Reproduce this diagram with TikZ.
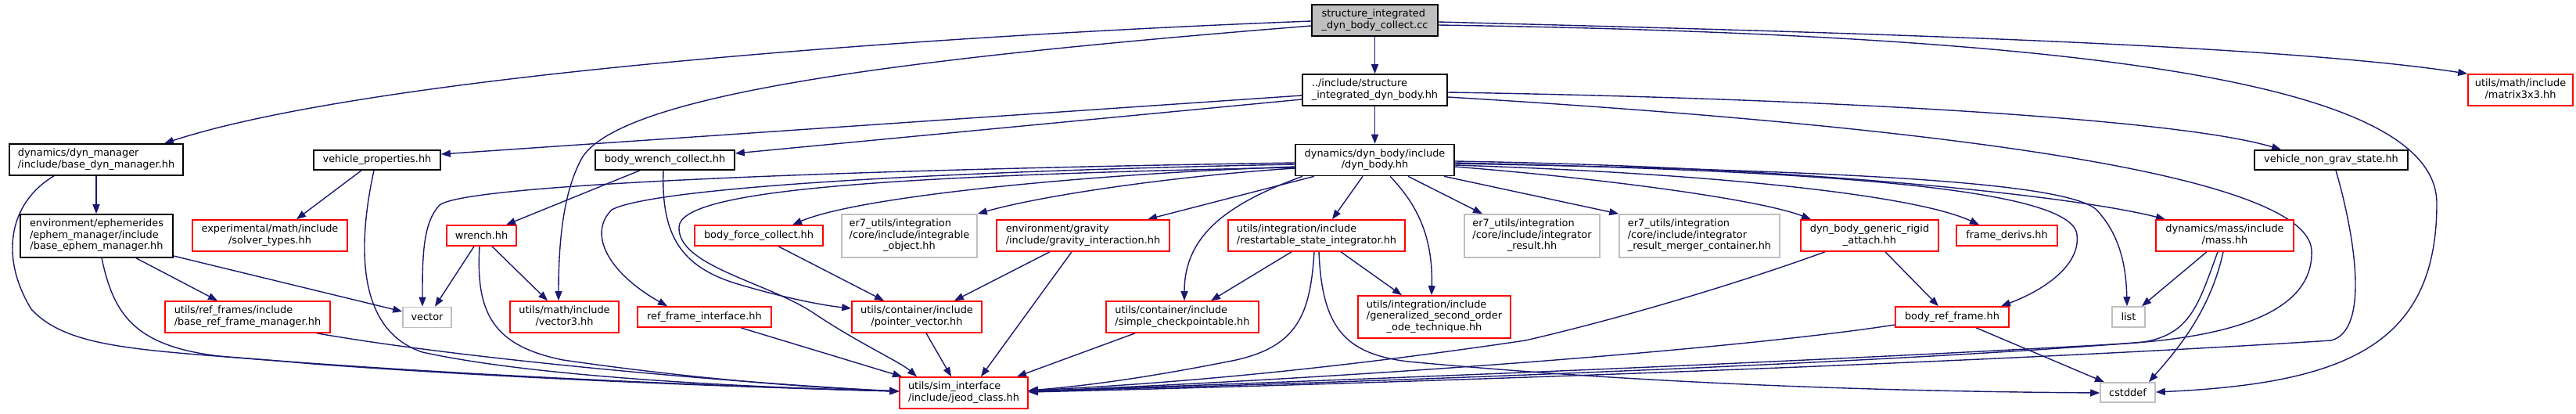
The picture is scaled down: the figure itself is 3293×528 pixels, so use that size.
\documentclass[tikz,border=0pt]{standalone}
\usepackage{fontspec}
\setmainfont{DejaVu Sans}
\usetikzlibrary{arrows.meta}
\definecolor{edgeblue}{HTML}{191970}
\definecolor{redbd}{HTML}{FF0000}
\definecolor{graybd}{HTML}{BFBFBF}
\pgfdeclarelayer{edgelayer}
\pgfsetlayers{edgelayer,main}
\newcommand{\ml}[2]{\begin{tabular}{@{}l@{}}#1\\\multicolumn{1}{@{}c@{}}{#2}\end{tabular}}
\begin{document}
\begin{tikzpicture}[x=1pt,y=-1pt,
  box/.style={rectangle,draw,line width=1.6pt,inner sep=0pt,fill=white,
    font=\fontsize{12.9}{14.5}\selectfont},
  blk/.style={box,draw=black},
  redn/.style={box,draw=redbd},
  gryn/.style={box,draw=graybd},
  topn/.style={box,draw=black,fill=graybd},
  e/.style={draw=edgeblue,line width=1.4pt,-{Triangle[length=12pt,width=9pt]}}]
\useasboundingbox (0,0) rectangle (3293,528);
% nodes
\node[topn,minimum width=161pt,minimum height=40pt] (top) at (1757.5,26) {\ml{structure\_integrated}{\_dyn\_body\_collect.cc}};
\node[blk,minimum width=185pt,minimum height=40pt] (sidb) at (1757.5,115) {\ml{../include/structure}{\_integrated\_dyn\_body.hh}};
\node[blk,minimum width=203pt,minimum height=40pt] (dynbody) at (1757.5,204.5) {\ml{dynamics/dyn\_body/include}{/dyn\_body.hh}};
\node[blk,minimum width=222pt,minimum height=40pt] (dynmgr) at (123,204) {\ml{dynamics/dyn\_manager}{/include/base\_dyn\_manager.hh}};
\node[blk,minimum width=162pt,minimum height=25pt] (vehprop) at (482,204.5) {vehicle\_properties.hh};
\node[blk,minimum width=178pt,minimum height=25pt] (bwc) at (850,204.5) {body\_wrench\_collect.hh};
\node[blk,minimum width=196pt,minimum height=25pt] (vngs) at (2980,204.5) {vehicle\_non\_grav\_state.hh};
\node[redn,minimum width=134pt,minimum height=40pt] (matrix) at (3222,115) {\ml{utils/math/include}{/matrix3x3.hh}};
\node[blk,minimum width=195pt,minimum height=55pt] (ephem) at (123.5,301.5) {\ml{environment/ephemerides\\/ephem\_manager/include}{/base\_ephem\_manager.hh}};
\node[redn,minimum width=198pt,minimum height=40pt] (solver) at (345,301) {\ml{experimental/math/include}{/solver\_types.hh}};
\node[redn,minimum width=89pt,minimum height=26pt] (wrench) at (615.5,301) {wrench.hh};
\node[redn,minimum width=164pt,minimum height=26pt] (bfc) at (970,301) {body\_force\_collect.hh};
\node[gryn,minimum width=173pt,minimum height=55pt] (intobj) at (1162.5,301.5) {\ml{er7\_utils/integration\\/core/include/integrable}{\_object.hh}};
\node[redn,minimum width=221pt,minimum height=40pt] (grav) at (1384.5,301) {\ml{environment/gravity}{/include/gravity\_interaction.hh}};
\node[redn,minimum width=226pt,minimum height=40pt] (rsi) at (1683,301) {\ml{utils/integration/include}{/restartable\_state\_integrator.hh}};
\node[gryn,minimum width=173pt,minimum height=55pt] (intres) at (1958.5,301.5) {\ml{er7\_utils/integration\\/core/include/integrator}{\_result.hh}};
\node[gryn,minimum width=205pt,minimum height=55pt] (merger) at (2172.5,301.5) {\ml{er7\_utils/integration\\/core/include/integrator}{\_result\_merger\_container.hh}};
\node[redn,minimum width=176pt,minimum height=40pt] (attach) at (2390,301) {\ml{dyn\_body\_generic\_rigid}{\_attach.hh}};
\node[redn,minimum width=129pt,minimum height=26pt] (fderiv) at (2565.5,301) {frame\_derivs.hh};
\node[redn,minimum width=176pt,minimum height=40pt] (mass) at (2844,301) {\ml{dynamics/mass/include}{/mass.hh}};
\node[redn,minimum width=211pt,minimum height=40pt] (brfm) at (316.5,405) {\ml{utils/ref\_frames/include}{/base\_ref\_frame\_manager.hh}};
\node[gryn,minimum width=62pt,minimum height=26pt] (vector) at (546,405.5) {vector};
\node[redn,minimum width=139pt,minimum height=40pt] (vector3) at (721.5,405) {\ml{utils/math/include}{/vector3.hh}};
\node[redn,minimum width=171pt,minimum height=26pt] (rfi) at (900.5,405) {ref\_frame\_interface.hh};
\node[redn,minimum width=166pt,minimum height=40pt] (pv) at (1172,405) {\ml{utils/container/include}{/pointer\_vector.hh}};
\node[redn,minimum width=195pt,minimum height=40pt] (sc) at (1511.5,405) {\ml{utils/container/include}{/simple\_checkpointable.hh}};
\node[redn,minimum width=195pt,minimum height=54pt] (gso) at (1833.5,405) {\ml{utils/integration/include\\/generalized\_second\_order}{\_ode\_technique.hh}};
\node[redn,minimum width=145pt,minimum height=26pt] (brf) at (2495.5,405) {body\_ref\_frame.hh};
\node[gryn,minimum width=42pt,minimum height=26pt] (list) at (2721,405) {list};
\node[redn,minimum width=164pt,minimum height=40pt] (jeod) at (1232,502) {\ml{utils/sim\_interface}{/include/jeod\_class.hh}};
\node[gryn,minimum width=70pt,minimum height=25pt] (cstddef) at (2720,501.5) {cstddef};
\begin{pgfonlayer}{edgelayer}
% edges from top
\draw[e] (top.west |- 0,27) .. controls (1200,45) and (480,95) .. (dynmgr.north -| 210,0);
\draw[e] (top.south) -- (sidb.north);
\draw[e] (top.east |- 0,28) .. controls (2300,40) and (2900,55) .. (matrix.north west);
\draw[e] (top.west |- 0,33) .. controls (1150,75) and (800,120) .. (745,200) .. controls (722,240) and (714,300) .. (vector3.north -| 714,0);
\draw[e] (top.east |- 0,32) .. controls (2700,45) and (3115,110) .. (3115,260) .. controls (3115,440) and (3000,490) .. (cstddef.east |- 0,501);
% edges from sidb
\draw[e] (sidb.south) -- (dynbody.north);
\draw[e] (sidb.west |- 0,122) -- (vehprop.east |- 0,197);
\draw[e] (sidb.west |- 0,127) -- (bwc.east |- 0,196);
\draw[e] (sidb.east |- 0,118) .. controls (2300,125) and (2780,150) .. (vngs.north -| 2916,0);
\draw[e] (sidb.east |- 0,124) .. controls (2450,160) and (2950,220) .. (2955,320) .. controls (2958,400) and (2850,432) .. (2700,440) .. controls (2200,468) and (1600,490) .. (jeod.east |- 0,500);
% edges from dynbody
\draw[e] (dynbody.west |- 0,208) .. controls (1200,215) and (600,232) .. (562,262) .. controls (540,285) and (540,330) .. (vector.north -| 540,0);
\draw[e] (dynbody.west |- 0,210) .. controls (1150,220) and (830,242) .. (782,268) .. controls (750,300) and (780,350) .. (rfi.north -| 853,0);
\draw[e] (dynbody.west |- 0,213) .. controls (1400,222) and (1100,250) .. (bfc.north -| 1013,0);
\draw[e] (dynbody.west |- 0,215) .. controls (1500,225) and (1330,250) .. (intobj.north east);
\draw[e] (dynbody.south -| 1680,0) -- (grav.north -| 1467,0);
\draw[e] (dynbody.south -| 1665,0) .. controls (1570,260) and (1514,300) .. (sc.north -| 1514,0);
\draw[e] (dynbody.south -| 1742,0) -- (rsi.north -| 1703,0);
\draw[e] (dynbody.south -| 1777,0) .. controls (1810,260) and (1832,300) .. (gso.north -| 1830,0);
\draw[e] (dynbody.south -| 1800,0) -- (intres.north -| 1895,0);
\draw[e] (dynbody.south -| 1846,0) -- (merger.north west);
\draw[e] (dynbody.east |- 0,213) .. controls (2050,228) and (2250,255) .. (attach.north -| 2315,0);
\draw[e] (dynbody.east |- 0,211) .. controls (2200,222) and (2450,250) .. (fderiv.north -| 2530,0);
\draw[e] (dynbody.east |- 0,208) .. controls (2300,218) and (2650,238) .. (2655,300) .. controls (2660,340) and (2610,372) .. (brf.north -| 2558,0);
\draw[e] (dynbody.east |- 0,209) .. controls (2350,218) and (2640,232) .. (2680,268) .. controls (2710,300) and (2718,340) .. (list.north -| 2719,0);
\draw[e] (dynbody.east |- 0,206) .. controls (2300,213) and (2650,250) .. (mass.north -| 2768,0);
\draw[e] (dynbody.west |- 0,214) .. controls (1100,225) and (870,245) .. (868,290) .. controls (866,340) and (980,360) .. (1040,400) .. controls (1100,440) and (1150,462) .. (jeod.north -| 1172,0);
% left part
\draw[e] (bwc.south -| 818,0) -- (wrench.north -| 647,0);
\draw[e] (bwc.south -| 848,0) .. controls (845,300) and (870,340) .. (940,362) .. controls (1000,380) and (1050,390) .. (pv.west |- 0,394);
\draw[e] (vehprop.south -| 462,0) -- (solver.north -| 379,0);
\draw[e] (vehprop.south -| 478,0) .. controls (460,300) and (450,420) .. (540,450) .. controls (700,485) and (1000,496) .. (jeod.west |- 0,500);
\draw[e] (dynmgr.south -| 123,0) -- (ephem.north -| 123,0);
\draw[e] (dynmgr.south -| 69,0) .. controls (10,260) and (0,330) .. (40,395) .. controls (90,450) and (200,447) .. (400,465) .. controls (700,487) and (1000,496) .. (jeod.west |- 0,500);
\draw[e] (ephem.south -| 174,0) -- (brfm.north -| 278,0);
\draw[e] (ephem.east |- 0,327) -- (vector.west |- 0,398);
\draw[e] (ephem.south -| 130,0) .. controls (145,400) and (170,442) .. (280,455) .. controls (600,482) and (1000,496) .. (jeod.west |- 0,500);
\draw[e] (brfm.south -| 405,0) .. controls (600,460) and (950,490) .. (jeod.west |- 0,500);
\draw[e] (wrench.south -| 606,0) -- (vector.north -| 556,0);
\draw[e] (wrench.south -| 629,0) -- (vector3.north -| 700,0);
\draw[e] (wrench.south -| 613,0) .. controls (608,400) and (630,442) .. (720,460) .. controls (900,486) and (1050,496) .. (jeod.west |- 0,500);
\draw[e] (rfi.south -| 947,0) -- (jeod.north -| 1153,0);
\draw[e] (bfc.south -| 995,0) -- (pv.north -| 1130,0);
\draw[e] (grav.south -| 1342,0) -- (pv.north -| 1220,0);
\draw[e] (grav.south -| 1370,0) -- (jeod.north -| 1254,0);
\draw[e] (pv.south -| 1184,0) -- (jeod.north -| 1216,0);
\draw[e] (sc.south -| 1451,0) -- (jeod.north -| 1300,0);
% right part
\draw[e] (rsi.south -| 1651,0) -- (sc.north -| 1548,0);
\draw[e] (rsi.south -| 1714,0) -- (gso.north -| 1792,0);
\draw[e] (rsi.south -| 1680,0) .. controls (1675,400) and (1660,442) .. (1580,460) .. controls (1480,480) and (1400,492) .. (jeod.east |- 0,499);
\draw[e] (rsi.south -| 1686,0) .. controls (1690,420) and (1720,452) .. (1800,462) .. controls (2100,490) and (2400,500) .. (cstddef.west |- 0,502);
\draw[e] (attach.south -| 2410,0) -- (brf.north -| 2478,0);
\draw[e] (attach.south -| 2333,0) .. controls (2200,370) and (2050,412) .. (1950,435) .. controls (1700,472) and (1500,490) .. (jeod.east |- 0,499);
\draw[e] (brf.west |- 0,415) .. controls (2250,442) and (1800,480) .. (jeod.east |- 0,500);
\draw[e] (brf.south -| 2526,0) -- (cstddef.north -| 2690,0);
\draw[e] (mass.south -| 2821,0) -- (list.north -| 2738,0);
\draw[e] (mass.south -| 2842,0) .. controls (2825,400) and (2780,450) .. (cstddef.north -| 2747,0);
\draw[e] (mass.south -| 2835,0) .. controls (2810,390) and (2800,427) .. (2740,437) .. controls (2400,465) and (1700,490) .. (jeod.east |- 0,500);
\draw[e] (vngs.south -| 2986,0) .. controls (3010,300) and (3030,422) .. (2980,435) .. controls (2500,466) and (1700,492) .. (jeod.east |- 0,501);
\end{pgfonlayer}
\end{tikzpicture}
\end{document}
